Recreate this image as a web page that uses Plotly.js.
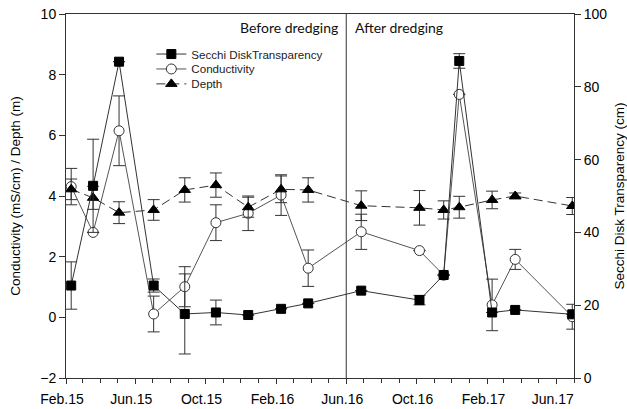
<!DOCTYPE html>
<html>
<head>
<meta charset="utf-8">
<script src="https://cdn.plot.ly/plotly-3.0.1.min.js"></script>
<style>
  html, body { margin: 0; padding: 0; background: #fff; }
  #chart { width: 627px; height: 409px; }
</style>
</head>
<body>
<div id="chart"></div>
<script>
// Sampling dates (shared by all three series)
const sampleDates = ['2015-02-10', '2015-03-20', '2015-05-04', '2015-07-03', '2015-08-26',
  '2015-10-19', '2015-12-14', '2016-02-09', '2016-03-27', '2016-06-27', '2016-10-06',
  '2016-11-17', '2016-12-14', '2017-02-09', '2017-03-21', '2017-06-28'];

// Secchi disk transparency (cm), right axis
const secchi = [25.4, 52.8, 86.9, 25.4, 17.6, 18.0, 17.3, 19.0, 20.5, 24.0, 21.4, 28.3, 87.1, 18.0, 18.7, 17.5];
const secchiErr = [6.5, 12.8, null, 1.8, 11.0, 3.4, null, null, null, null, 1.3, null, 2.0, null, null, null];

// Conductivity (mS/cm), left axis
const conductivity = [4.31, 2.80, 6.15, 0.11, 1.01, 3.12, 3.43, 4.03, 1.62, 2.82, 2.20, 1.39, 7.35, 0.41, 1.91, 0.02];
const conductivityErr = [0.6, null, 1.15, 0.59, 0.66, 0.59, 0.57, 0.67, 0.6, 0.58, null, null, null, 0.85, 0.33, 0.41];

// Depth (m), left axis
const depth = [4.22, 3.94, 3.45, 3.54, 4.20, 4.36, 3.63, 4.22, 4.20, 3.68, 3.61, 3.54, 3.63, 3.87, 4.00, 3.67];
const depthErr = [0.34, 0.38, 0.36, 0.34, 0.4, 0.4, 0.33, 0.44, 0.4, 0.49, 0.57, 0.3, 0.36, 0.29, 0.1, 0.28];

// X axis tick labels
const tickDates = ['2015-02-01', '2015-06-01', '2015-10-01', '2016-02-01', '2016-06-01', '2016-10-01', '2017-02-01', '2017-06-01'];
const tickLabels = ['Feb.15', 'Jun.15', 'Oct.15', 'Feb.16', 'Jun.16', 'Oct.16', 'Feb.17', 'Jun.17'];

// Dredging boundary
const dredgingDate = '2016-06-01';
const periodLabels = ['Before dredging', 'After dredging'];

const ink = '#333333';
const baseFont = 'Liberation Sans, Arial, sans-serif';
const legendFont = { family: baseFont, size: 11.6, color: '#222' };

function errBars(arr) {
  return { type: 'data', array: arr, symmetric: true, visible: true,
           color: ink, thickness: 1, width: 6 };
}

// one legend box per series so the rows sit close together
function legendBox(yPos) {
  return { x: 0.168, y: yPos, xanchor: 'left', yanchor: 'middle',
           bgcolor: 'rgba(0,0,0,0)', borderwidth: 0, font: legendFont };
}

const traces = [
  {
    name: 'Secchi DiskTransparency', legend: 'legend',
    x: sampleDates, y: secchi, yaxis: 'y2',
    mode: 'lines+markers',
    line: { color: ink, width: 1 },
    marker: { symbol: 'square', size: 9, color: '#000', line: { color: '#000', width: 1 } },
    error_y: errBars(secchiErr)
  },
  {
    name: 'Conductivity', legend: 'legend2',
    x: sampleDates, y: conductivity, yaxis: 'y',
    mode: 'lines+markers',
    line: { color: '#555', width: 1 },
    marker: { symbol: 'circle', size: 10, color: '#fff', line: { color: ink, width: 1 } },
    error_y: errBars(conductivityErr)
  },
  {
    name: 'Depth', legend: 'legend3',
    x: sampleDates, y: depth, yaxis: 'y',
    mode: 'lines+markers',
    line: { color: ink, width: 1, dash: '9px,5px' },
    marker: { symbol: 'triangle-up', size: 10, color: '#000', line: { color: '#000', width: 1 } },
    error_y: errBars(depthErr)
  }
];

const layout = {
  width: 627, height: 409,
  margin: { l: 66, r: 53, t: 14, b: 31 },
  paper_bgcolor: '#fff', plot_bgcolor: '#fff',
  font: { family: baseFont, size: 14, color: '#000' },
  showlegend: true,
  legend: legendBox(0.890),
  legend2: legendBox(0.849),
  legend3: legendBox(0.808),
  xaxis: {
    type: 'date',
    range: ['2015-02-01', '2017-07-01'],
    tickmode: 'array', tickvals: tickDates, ticktext: tickLabels,
    ticks: 'outside', ticklen: 5, tickcolor: ink, tickwidth: 1,
    ticklabelshift: -4, ticklabelstandoff: 3,
    minor: { ticks: 'outside', ticklen: 4, dtick: 'M1', tick0: '2015-02-01', tickcolor: ink, showgrid: false },
    showline: true, linecolor: ink, linewidth: 1, mirror: true,
    showgrid: false, zeroline: false,
    tickfont: { size: 14 }
  },
  yaxis: {
    range: [-2, 10], dtick: 2, tick0: 0,
    ticks: 'outside', ticklen: 6, tickcolor: ink,
    showline: true, linecolor: ink, linewidth: 1,
    showgrid: false, zeroline: false,
    tickfont: { size: 14 },
    title: { text: 'Conductivity (mS/cm) / Depth (m)', font: { size: 13.5 }, standoff: 16 }
  },
  yaxis2: {
    overlaying: 'y', side: 'right',
    range: [0, 100], dtick: 20, tick0: 0,
    ticks: 'outside', ticklen: 6, tickcolor: ink,
    showline: true, linecolor: ink, linewidth: 1,
    showgrid: false, zeroline: false,
    tickfont: { size: 14 },
    title: { text: 'Secchi Disk Transparency (cm)', font: { size: 13.5 }, standoff: 13 }
  },
  shapes: [
    { type: 'line', xref: 'x', yref: 'paper', x0: dredgingDate, x1: dredgingDate, y0: 0, y1: 1,
      line: { color: ink, width: 1 } }
  ],
  annotations: [
    { text: periodLabels[0], xref: 'x', yref: 'paper', x: dredgingDate, y: 0.963,
      xanchor: 'right', yanchor: 'middle', xshift: -6, showarrow: false,
      font: { family: 'Lato, Open Sans, sans-serif', size: 14, color: '#111' } },
    { text: periodLabels[1], xref: 'x', yref: 'paper', x: dredgingDate, y: 0.963,
      xanchor: 'left', yanchor: 'middle', xshift: 7, showarrow: false,
      font: { family: 'Lato, Open Sans, sans-serif', size: 14, color: '#111' } }
  ]
};

Plotly.newPlot('chart', traces, layout, { displayModeBar: false, staticPlot: true });
</script>
</body>
</html>
